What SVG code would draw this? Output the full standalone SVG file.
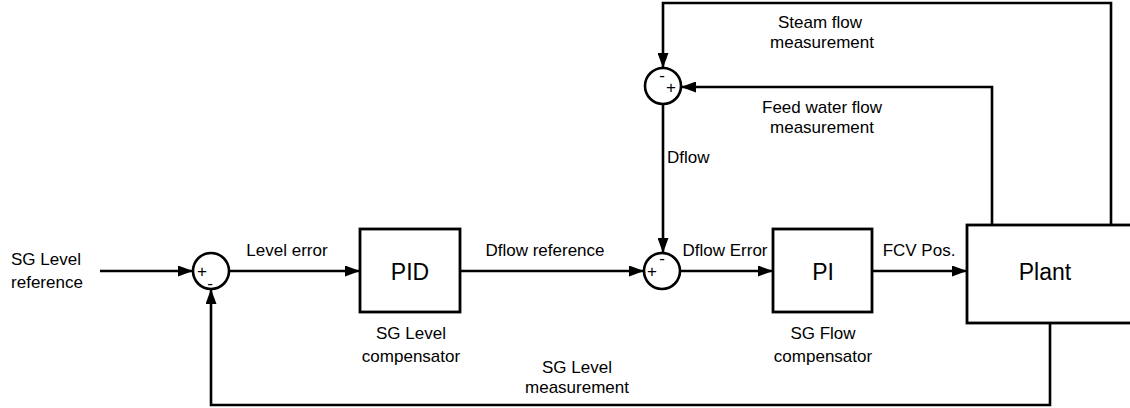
<svg xmlns="http://www.w3.org/2000/svg" width="1130" height="408" viewBox="0 0 1130 408">
<style>
.box{fill:#fff;stroke:#000;stroke-width:2.8}
.sum{fill:#fff;stroke:#000;stroke-width:2.6}
.wire{fill:none;stroke:#000;stroke-width:2.6}
text{font-family:"Liberation Sans",Arial,sans-serif;fill:#000}
.lbl{font-size:17px;text-anchor:middle}
.big{font-size:23px;text-anchor:middle}
.sign{font-size:17px;text-anchor:middle}
</style>
<defs>
<marker id="ah" markerUnits="userSpaceOnUse" markerWidth="15" markerHeight="11" refX="15" refY="5.5" orient="auto">
<path d="M0,0 L15,5.5 L0,11 z" fill="#000"/>
</marker>
</defs>
<g id="connectors">
<path class="wire" d="M100,271 H193" marker-end="url(#ah)"/>
<path class="wire" d="M229,271 H360" marker-end="url(#ah)"/>
<path class="wire" d="M460,271 H644" marker-end="url(#ah)"/>
<path class="wire" d="M663,104 V253" marker-end="url(#ah)"/>
<path class="wire" d="M680,271 H773" marker-end="url(#ah)"/>
<path class="wire" d="M872,271 H967" marker-end="url(#ah)"/>
<path class="wire" d="M992,225 V87 H681" marker-end="url(#ah)"/>
<path class="wire" d="M1111,225 V3 H663 V68" marker-end="url(#ah)"/>
<path class="wire" d="M1050,323 V405 H211 V289" marker-end="url(#ah)"/>
</g>
<g id="input-label">
<text class="lbl" x="46" y="265">SG Level</text>
<text class="lbl" x="47" y="288">reference</text>
</g>
<g id="sum1">
<circle class="sum" cx="211" cy="271" r="18"/>
<text class="sign" x="202" y="277">+</text>
<text class="sign" x="210" y="289">-</text>
</g>
<g id="pid">
<rect class="box" x="360" y="229" width="100" height="83"/>
<text class="big" x="410" y="280">PID</text>
<text class="lbl" x="411" y="339">SG Level</text>
<text class="lbl" x="411" y="362">compensator</text>
</g>
<g id="sum2">
<circle class="sum" cx="662" cy="271" r="18"/>
<text class="sign" x="652" y="277">+</text>
<text class="sign" x="662" y="264">-</text>
</g>
<g id="sum3">
<circle class="sum" cx="663" cy="86" r="18"/>
<text class="sign" x="662" y="81">-</text>
<text class="sign" x="671" y="93">+</text>
</g>
<g id="pi">
<rect class="box" x="773" y="229" width="99" height="83"/>
<text class="big" x="823" y="280">PI</text>
<text class="lbl" x="823" y="339">SG Flow</text>
<text class="lbl" x="823" y="362">compensator</text>
</g>
<g id="plant">
<rect class="box" x="967" y="225" width="170" height="98"/>
<text class="big" x="1045" y="280">Plant</text>
</g>
<g id="labels">
<text class="lbl" x="287" y="256">Level error</text>
<text class="lbl" x="545" y="256">Dflow reference</text>
<text class="lbl" x="725" y="256">Dflow Error</text>
<text class="lbl" x="919" y="256">FCV Pos.</text>
<text class="lbl" x="667" y="163" style="text-anchor:start">Dflow</text>
<text class="lbl" x="820" y="28">Steam flow</text>
<text class="lbl" x="822" y="48">measurement</text>
<text class="lbl" x="822" y="113">Feed water flow</text>
<text class="lbl" x="822" y="133">measurement</text>
<text class="lbl" x="577" y="373">SG Level</text>
<text class="lbl" x="577" y="393">measurement</text>
</g>
</svg>
